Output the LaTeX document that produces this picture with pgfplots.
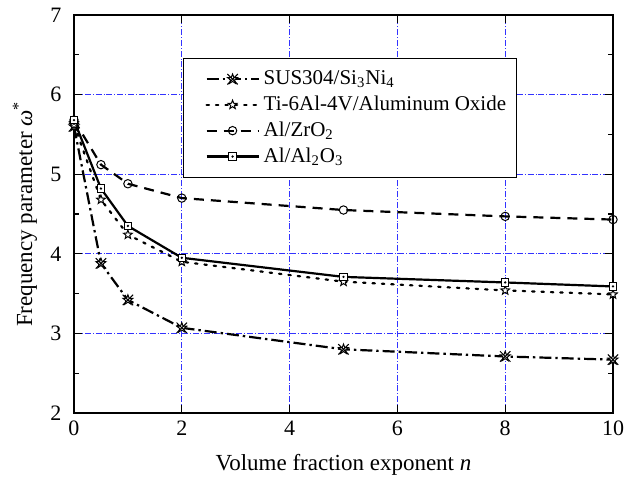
\documentclass[border=0pt]{standalone}
\usepackage{fontspec}
\setmainfont{Liberation Serif}
\usepackage{pgfplots}
\pgfplotsset{compat=1.18}

% outline five-point star
\pgfdeclareplotmark{ostar}{%
  \pgfpathmoveto{\pgfqpointpolar{90}{\pgfplotmarksize}}%
  \pgfpathlineto{\pgfqpointpolar{126}{0.42\pgfplotmarksize}}%
  \pgfpathlineto{\pgfqpointpolar{162}{\pgfplotmarksize}}%
  \pgfpathlineto{\pgfqpointpolar{198}{0.42\pgfplotmarksize}}%
  \pgfpathlineto{\pgfqpointpolar{234}{\pgfplotmarksize}}%
  \pgfpathlineto{\pgfqpointpolar{270}{0.42\pgfplotmarksize}}%
  \pgfpathlineto{\pgfqpointpolar{306}{\pgfplotmarksize}}%
  \pgfpathlineto{\pgfqpointpolar{342}{0.42\pgfplotmarksize}}%
  \pgfpathlineto{\pgfqpointpolar{18}{\pgfplotmarksize}}%
  \pgfpathlineto{\pgfqpointpolar{54}{0.42\pgfplotmarksize}}%
  \pgfpathclose
  \pgfusepathqfillstroke}
% star with a cross over it
\pgfdeclareplotmark{xstar}{%
  \pgfuseplotmark{ostar}%
  \pgfpathmoveto{\pgfqpoint{-\pgfplotmarksize}{-\pgfplotmarksize}}%
  \pgfpathlineto{\pgfqpoint{\pgfplotmarksize}{\pgfplotmarksize}}%
  \pgfpathmoveto{\pgfqpoint{-\pgfplotmarksize}{\pgfplotmarksize}}%
  \pgfpathlineto{\pgfqpoint{\pgfplotmarksize}{-\pgfplotmarksize}}%
  \pgfusepathqstroke}
% square with a dot in the middle
\pgfdeclareplotmark{sqdot}{%
  \pgfpathrectangle{\pgfqpoint{-\pgfplotmarksize}{-\pgfplotmarksize}}%
    {\pgfqpoint{2\pgfplotmarksize}{2\pgfplotmarksize}}%
  \pgfusepathqfillstroke
  \pgfpathcircle{\pgfpointorigin}{0.3pt}%
  \pgfusepathqstroke}

\begin{document}
\fontsize{11}{13}\selectfont
\begin{tikzpicture}
\begin{axis}[
  scale only axis,
  width=269.5pt, height=199pt,
  xmin=0, xmax=10, ymin=2, ymax=7,
  xtick={0,2,...,10}, ytick={2,3,...,7},
  minor y tick num=1,
  tick align=inside,
  major tick length=4pt, minor tick length=2.5pt,
  grid=major,
  major grid style={blue!80, densely dash dot, line width=0.4pt},
  axis line style={line width=0.8pt},
  tick style={black, line width=0.6pt},
  /pgf/number format/assume math mode=true,
  tick label style={font=\fontsize{11}{13}\selectfont},
  yticklabel style={xshift=-2.5pt},
  label style={font=\fontsize{11.5}{13.5}\selectfont},
  xlabel={Volume fraction exponent \textit{n}},
  ylabel={Frequency parameter \textit{ω}\textsuperscript{*}},
  xlabel style={at={(axis description cs:0.5,-0.13)}, anchor=center},
  ylabel style={at={(axis description cs:-0.091,0.5)}, anchor=center},
  legend style={at={(0.202,0.892)}, anchor=north west, draw=black,
    line width=0.6pt, font=\fontsize{10.5}{12.5}\selectfont,
    row sep=0pt, inner xsep=3pt, inner ysep=4pt},
  legend cell align=left,
  legend image code/.code={%
    \path (-8pt,0pt);
    \draw[mark repeat=2,mark phase=2,#1]
      plot coordinates {(0pt,0pt) (13pt,0pt) (26pt,0pt)};},
  every axis plot/.append style={line width=1.1pt, mark options={solid, line width=0.5pt, fill=white}},
]
\addplot[black, dash pattern=on 6pt off 2pt on 1.2pt off 2pt, mark=xstar, mark size=2.6pt]
  coordinates {(0,5.60) (0.5,3.88) (1,3.42) (2,3.07) (5,2.80) (8,2.71) (10,2.67)};
\addlegendentry{SUS304/Si\textsubscript{3}Ni\textsubscript{4}}
\addplot[black, dash pattern=on 1.2pt off 3.5pt, line cap=round, mark=ostar, mark size=2.3pt]
  coordinates {(0,5.62) (0.5,4.68) (1,4.24) (2,3.90) (5,3.65) (8,3.54) (10,3.49)};
\addlegendentry{Ti-6Al-4V/Aluminum Oxide}
\addplot[black, dash pattern=on 5pt off 3.5pt, mark=o, mark size=2.1pt]
  coordinates {(0,5.68) (0.5,5.12) (1,4.88) (2,4.70) (5,4.55) (8,4.47) (10,4.43)};
\addlegendentry{Al/ZrO\textsubscript{2}}
\addplot[black, solid, mark=sqdot, mark size=1.8pt]
  coordinates {(0,5.68) (0.5,4.82) (1,4.35) (2,3.95) (5,3.71) (8,3.64) (10,3.59)};
\addlegendentry{Al/Al\textsubscript{2}O\textsubscript{3}}
\coordinate (sw) at (rel axis cs:0,0);
\coordinate (ne) at (rel axis cs:1,1);
\end{axis}
\path (sw) ++(-37pt,-35pt) coordinate (bbA);
\path (ne) ++(7pt,7.5pt) coordinate (bbB);
\pgfresetboundingbox
\path (bbA) rectangle (bbB);
\end{tikzpicture}
\end{document}
